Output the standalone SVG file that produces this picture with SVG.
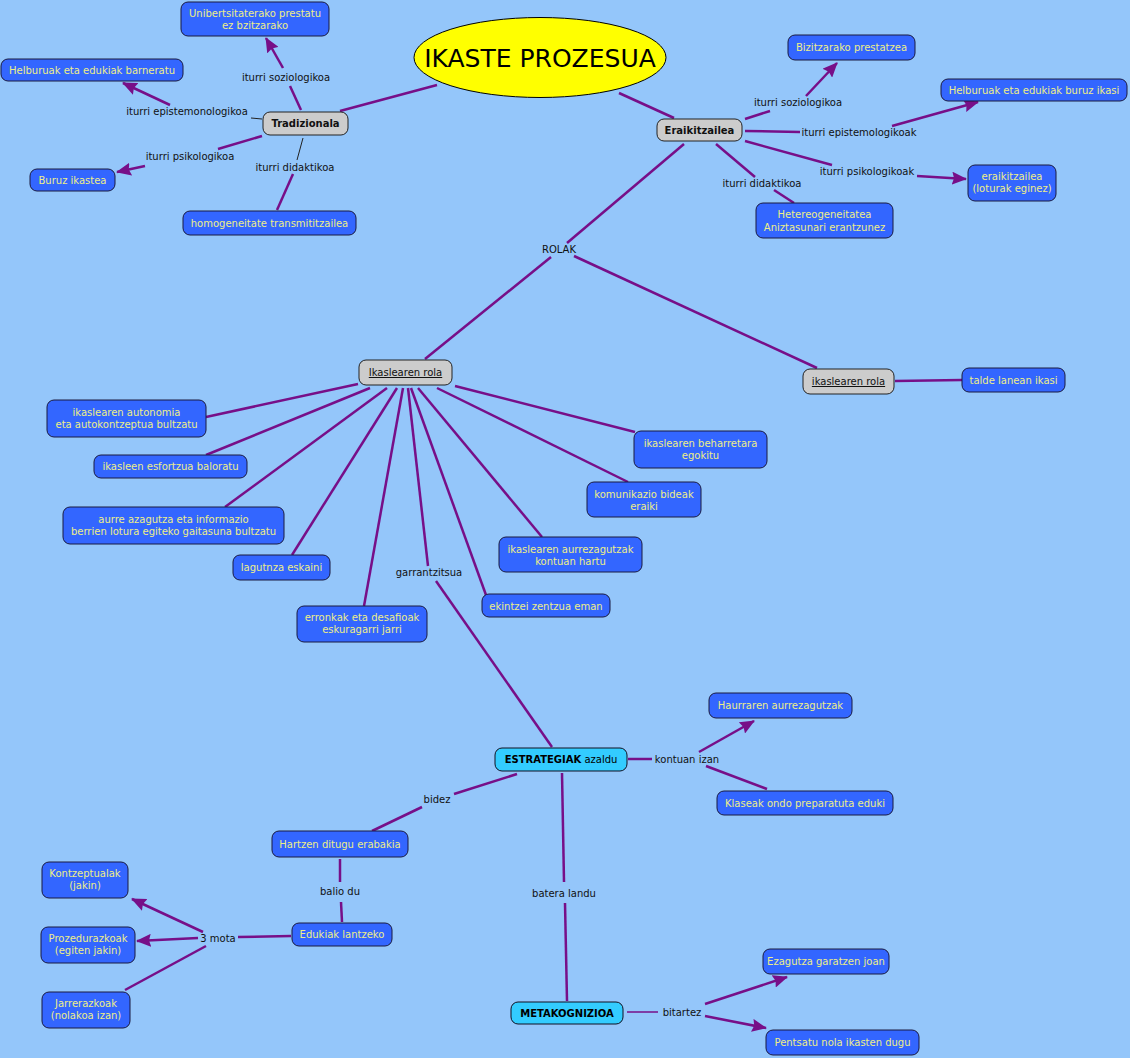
<svg xmlns="http://www.w3.org/2000/svg" width="1130" height="1058" viewBox="0 0 1130 1058">
<defs>
<style>
text{font-family:"DejaVu Sans",Verdana,sans-serif;font-size:10px;text-anchor:middle}
.n rect{fill:#3366ff;stroke:#1a1a40;stroke-width:1}
.n text{fill:#eeee88}
.g rect{fill:#cccccc;stroke:#222;stroke-width:1}
.g text{fill:#111}
.c rect{fill:#33ccff;stroke:#112;stroke-width:1}
.c text{fill:#000}
.lbl{fill:#111}
.l{stroke:#770f88;stroke-width:2.5;fill:none}
.t{stroke:#222;stroke-width:1;fill:none}
.tp{stroke:#770f88;stroke-width:1.5;fill:none}
.a{marker-end:url(#ah)}
</style>
<marker id="ah" viewBox="0 0 15 13" refX="14" refY="6.5" markerWidth="15" markerHeight="13" markerUnits="userSpaceOnUse" orient="auto">
<path d="M0,0 L15,6.5 L0,13 L2,6.5 z" fill="#770f88"/>
</marker>
</defs>
<rect x="0" y="0" width="1130" height="1058" fill="#94c6fa"/>

<g id="connectors">
<line class="l" x1="340" y1="111" x2="437" y2="85"/>
<line class="l" x1="619" y1="93" x2="674" y2="118"/>
<line class="l" x1="301" y1="110" x2="290" y2="86"/>
<line class="l a" x1="283" y1="68" x2="266" y2="38"/>
<line class="t" x1="262" y1="119" x2="251" y2="118"/>
<line class="l a" x1="170" y1="105" x2="123" y2="83"/>
<line class="l" x1="262" y1="136" x2="218" y2="149"/>
<line class="l a" x1="145" y1="166" x2="117" y2="172"/>
<line class="t" x1="303" y1="138" x2="297" y2="160"/>
<line class="l" x1="293" y1="174" x2="277" y2="210"/>
<line class="l" x1="745" y1="119" x2="770" y2="111"/>
<line class="l a" x1="806" y1="96" x2="837" y2="63"/>
<line class="l" x1="745" y1="131" x2="800" y2="132"/>
<line class="l a" x1="892" y1="126" x2="978" y2="102"/>
<line class="l" x1="745" y1="141" x2="832" y2="165"/>
<line class="l a" x1="917" y1="176" x2="966" y2="179"/>
<line class="l" x1="716" y1="144" x2="755" y2="177"/>
<line class="l" x1="774" y1="190" x2="794" y2="203"/>
<line class="l" x1="684" y1="144" x2="567" y2="243"/>
<line class="l" x1="551" y1="257" x2="425" y2="359"/>
<line class="l" x1="574" y1="256" x2="817" y2="368"/>
<line class="l" x1="895" y1="381" x2="962" y2="380"/>
<line class="l" x1="358" y1="384" x2="206" y2="417"/>
<line class="l" x1="370" y1="388" x2="206" y2="455"/>
<line class="l" x1="387" y1="388" x2="225" y2="507"/>
<line class="l" x1="397" y1="388" x2="292" y2="555"/>
<line class="l" x1="403" y1="388" x2="364" y2="606"/>
<line class="l" x1="408" y1="388" x2="428" y2="566"/>
<line class="l" x1="411" y1="388" x2="486" y2="595"/>
<line class="l" x1="418" y1="388" x2="542" y2="537"/>
<line class="l" x1="437" y1="388" x2="628" y2="482"/>
<line class="l" x1="455" y1="386" x2="635" y2="432"/>
<line class="l" x1="436" y1="581" x2="552" y2="747"/>
<line class="l" x1="628" y1="759" x2="652" y2="759"/>
<line class="l a" x1="699" y1="752" x2="754" y2="721"/>
<line class="l" x1="706" y1="766" x2="767" y2="789"/>
<line class="l" x1="517" y1="774" x2="454" y2="794"/>
<line class="l" x1="422" y1="807" x2="372" y2="831"/>
<line class="l" x1="340" y1="859" x2="340" y2="882"/>
<line class="l" x1="341" y1="902" x2="342" y2="922"/>
<line class="l" x1="562" y1="773" x2="564" y2="882"/>
<line class="l" x1="565" y1="903" x2="567" y2="1001"/>
<line class="l" x1="291" y1="936" x2="238" y2="937"/>
<line class="l a" x1="203" y1="932" x2="132" y2="899"/>
<line class="l a" x1="198" y1="938" x2="137" y2="941"/>
<line class="l" x1="206" y1="946" x2="125" y2="990"/>
<line class="tp" x1="627" y1="1012" x2="658" y2="1012"/>
<line class="l a" x1="705" y1="1004" x2="787" y2="977"/>
<line class="l a" x1="705" y1="1016" x2="766" y2="1028"/>
</g>

<g id="labels">
<text class="lbl" x="286" y="80.5">iturri soziologikoa</text>
<text class="lbl" x="187" y="114.5">iturri epistemonologikoa</text>
<text class="lbl" x="190" y="159.5">iturri psikologikoa</text>
<text class="lbl" x="295" y="170.5">iturri didaktikoa</text>
<text class="lbl" x="798" y="105.5">iturri soziologikoa</text>
<text class="lbl" x="859" y="135.5">iturri epistemologikoak</text>
<text class="lbl" x="867" y="174.5">iturri psikologikoak</text>
<text class="lbl" x="762" y="186.5">iturri didaktikoa</text>
<text class="lbl" x="559" y="252.5">ROLAK</text>
<text class="lbl" x="429" y="575.5">garrantzitsua</text>
<text class="lbl" x="687" y="762.5">kontuan izan</text>
<text class="lbl" x="437" y="802.5">bidez</text>
<text class="lbl" x="340" y="894.5">balio du</text>
<text class="lbl" x="564" y="896.5">batera landu</text>
<text class="lbl" x="218" y="941.5">3 mota</text>
<text class="lbl" x="682" y="1015.5">bitartez</text>
</g>

<g id="ikaste-prozesua">
<ellipse cx="540" cy="57.5" rx="126" ry="40" fill="#ffff00" stroke="#000" stroke-width="1"/>
<text x="540" y="67" style="font-size:25px" fill="#000">IKASTE PROZESUA</text>
</g>

<g id="tradizionala" class="g"><rect x="263" y="112" width="85" height="23" rx="7"/><text x="305.5" y="127" font-weight="bold">Tradizionala</text></g>
<g id="unibertsitaterako" class="n"><rect x="181" y="2" width="148" height="34" rx="7"/><text x="255" y="17">Unibertsitaterako prestatu</text><text x="255" y="29">ez bzitzarako</text></g>
<g id="helburuak-barneratu" class="n"><rect x="1" y="59" width="182" height="22" rx="7"/><text x="92" y="73.5">Helburuak eta edukiak barneratu</text></g>
<g id="buruz-ikastea" class="n"><rect x="30" y="169" width="85" height="22" rx="7"/><text x="72.5" y="183.5">Buruz ikastea</text></g>
<g id="homogeneitate" class="n"><rect x="183" y="211" width="173" height="24" rx="7"/><text x="269.5" y="226.5">homogeneitate transmititzailea</text></g>

<g id="eraikitzailea" class="g"><rect x="657" y="119" width="85" height="22" rx="7"/><text x="699.5" y="133.5" font-weight="bold">Eraikitzailea</text></g>
<g id="bizitzarako" class="n"><rect x="788" y="35" width="127" height="25" rx="7"/><text x="851.5" y="51">Bizitzarako prestatzea</text></g>
<g id="helburuak-buruz" class="n"><rect x="941" y="79" width="186" height="22" rx="7"/><text x="1034" y="93.5">Helburuak eta edukiak buruz ikasi</text></g>
<g id="eraikitzailea-loturak" class="n"><rect x="968" y="165" width="88" height="36" rx="7"/><text x="1012" y="179.5">eraikitzailea</text><text x="1012" y="191.5">(loturak eginez)</text></g>
<g id="hetereogeneitatea" class="n"><rect x="756" y="203" width="137" height="35" rx="7"/><text x="824.5" y="217.5">Hetereogeneitatea</text><text x="824.5" y="230.5">Aniztasunari erantzunez</text></g>

<g id="ikaslearen-rola-1" class="g"><rect x="359" y="360" width="93" height="25" rx="7"/><text x="405.5" y="376" text-decoration="underline">Ikaslearen rola</text></g>
<g id="ikaslearen-rola-2" class="g"><rect x="803" y="369" width="91" height="25" rx="7"/><text x="848.5" y="385" text-decoration="underline">ikaslearen rola</text></g>
<g id="talde-lanean" class="n"><rect x="962" y="368" width="103" height="24" rx="7"/><text x="1013.5" y="383.5">talde lanean ikasi</text></g>

<g id="autonomia" class="n"><rect x="47" y="400" width="159" height="37" rx="7"/><text x="126.5" y="415.5">ikaslearen autonomia</text><text x="126.5" y="427.5">eta autokontzeptua bultzatu</text></g>
<g id="esfortzua" class="n"><rect x="94" y="455" width="153" height="23" rx="7"/><text x="170.5" y="470">ikasleen esfortzua baloratu</text></g>
<g id="aurre-azagutza" class="n"><rect x="63" y="507" width="221" height="37" rx="7"/><text x="173.5" y="522.5">aurre azagutza eta informazio</text><text x="173.5" y="534.5">berrien lotura egiteko gaitasuna bultzatu</text></g>
<g id="lagutnza" class="n"><rect x="233" y="555" width="97" height="25" rx="7"/><text x="281.5" y="571">lagutnza eskaini</text></g>
<g id="erronkak" class="n"><rect x="297" y="606" width="130" height="36" rx="7"/><text x="362" y="620.5">erronkak eta desafioak</text><text x="362" y="632.5">eskuragarri jarri</text></g>
<g id="ekintzei" class="n"><rect x="482" y="594" width="128" height="23" rx="7"/><text x="546" y="609.5">ekintzei zentzua eman</text></g>
<g id="aurrezagutzak" class="n"><rect x="499" y="537" width="143" height="35" rx="7"/><text x="570.5" y="552.5">ikaslearen aurrezagutzak</text><text x="570.5" y="564.5">kontuan hartu</text></g>
<g id="komunikazio" class="n"><rect x="587" y="482" width="114" height="35" rx="7"/><text x="644" y="497.5">komunikazio bideak</text><text x="644" y="509.5">eraiki</text></g>
<g id="beharretara" class="n"><rect x="634" y="431" width="133" height="37" rx="7"/><text x="700.5" y="446.5">ikaslearen beharretara</text><text x="700.5" y="458.5">egokitu</text></g>

<g id="estrategiak" class="c"><rect x="495" y="748" width="132" height="23" rx="7"/><text x="561" y="763"><tspan font-weight="bold">ESTRATEGIAK</tspan> azaldu</text></g>
<g id="haurraren" class="n"><rect x="709" y="693" width="143" height="25" rx="7"/><text x="780.5" y="709">Haurraren aurrezagutzak</text></g>
<g id="klaseak" class="n"><rect x="717" y="791" width="176" height="24" rx="7"/><text x="805" y="806.5">Klaseak ondo preparatuta eduki</text></g>
<g id="hartzen" class="n"><rect x="272" y="831" width="136" height="26" rx="7"/><text x="340" y="847.5">Hartzen ditugu erabakia</text></g>
<g id="edukiak-lantzeko" class="n"><rect x="292" y="923" width="100" height="23" rx="7"/><text x="342" y="938">Edukiak lantzeko</text></g>
<g id="kontzeptualak" class="n"><rect x="42" y="862" width="86" height="36" rx="7"/><text x="85" y="876.5">Kontzeptualak</text><text x="85" y="888.5">(jakin)</text></g>
<g id="prozedurazkoak" class="n"><rect x="41" y="927" width="94" height="36" rx="7"/><text x="88" y="941.5">Prozedurazkoak</text><text x="88" y="953.5">(egiten jakin)</text></g>
<g id="jarrerazkoak" class="n"><rect x="42" y="992" width="88" height="36" rx="7"/><text x="86" y="1006.5">Jarrerazkoak</text><text x="86" y="1018.5">(nolakoa izan)</text></g>
<g id="metakognizioa" class="c"><rect x="511" y="1002" width="112" height="22" rx="7"/><text x="567" y="1016.5" font-weight="bold">METAKOGNIZIOA</text></g>
<g id="ezagutza" class="n"><rect x="763" y="949" width="126" height="25" rx="7"/><text x="826" y="965">Ezagutza garatzen joan</text></g>
<g id="pentsatu" class="n"><rect x="766" y="1030" width="153" height="25" rx="7"/><text x="842.5" y="1046">Pentsatu nola ikasten dugu</text></g>
</svg>
